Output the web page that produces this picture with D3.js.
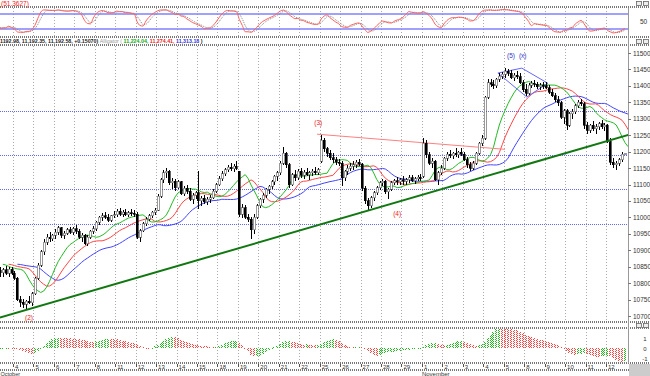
<!DOCTYPE html>
<html>
<head>
<meta charset="utf-8">
<title>DJIA hourly - Alligator</title>
<script src="https://d3js.org/d3.v7.min.js"></script>
<style>
body{margin:0;background:#fff}
svg{display:block}
text{font-family:"Liberation Sans",Arial,sans-serif}
</style>
</head>
<body>
<script>
// trading days shown (Oct 1 .. Nov 12), 7 hourly bars each
var dayLabels = ["1","4","5","6","7","8","11","12","13","14","15","18","19","20","21","22",
                 "25","26","27","28","29","1","2","3","4","5","8","9","10","11","12"];
var barsPerDay = 7;

// hourly candles [open, high, low, close], one row per day
var candles = [
 [10860,10880,10835,10850],[10850,10862,10830,10838],[10838,10850,10820,10832],[10832,10845,10818,10840],[10840,10852,10825,10830],[10830,10848,10820,10842],[10842,10850,10826,10830],
 [10830,10838,10810,10815],[10815,10818,10745,10750],[10750,10760,10728,10742],[10742,10752,10725,10735],[10735,10750,10722,10745],[10745,10760,10735,10740],[10740,10772,10730,10768],
 [10768,10820,10765,10815],[10815,10860,10810,10855],[10855,10900,10850,10895],[10895,10935,10885,10925],[10925,10950,10915,10940],[10940,10955,10925,10935],[10935,10950,10928,10945],
 [10945,10965,10935,10955],[10955,10975,10945,10968],[10968,10972,10938,10945],[10945,10960,10935,10952],[10952,10968,10945,10962],[10962,10970,10948,10955],[10955,10972,10945,10965],
 [10965,10978,10950,10958],[10958,10965,10935,10940],[10940,10952,10925,10945],[10945,10950,10915,10920],[10920,10945,10912,10940],[10940,10962,10935,10958],[10958,10975,10950,10965],
 [10965,10990,10960,10985],[10985,11005,10978,11000],[11000,11012,10990,11005],[11005,11015,10995,11000],[11000,11010,10985,10992],[10992,11008,10985,11005],[11005,11018,10998,11008],
 [11008,11025,11002,11018],[11018,11028,11005,11010],[11010,11022,11000,11015],[11015,11025,11005,11008],[11008,11020,11000,11014],[11014,11024,11004,11012],[11012,11022,11002,11010],
 [11010,11015,10935,10940],[10940,10965,10925,10960],[10960,10985,10955,10980],[10980,11000,10975,10995],[10995,11010,10990,11005],[11005,11020,10998,11015],[11015,11030,11008,11022],
 [11022,11070,11018,11065],[11065,11120,11060,11115],[11115,11145,11105,11135],[11135,11150,11120,11140],[11140,11145,11100,11105],[11105,11120,11085,11110],[11110,11118,11080,11090],
 [11090,11115,11085,11108],[11108,11112,11068,11072],[11072,11095,11065,11088],[11088,11098,11070,11080],[11080,11090,11050,11055],[11055,11075,11040,11068],[11068,11080,11055,11075],
 [11075,11140,11025,11050],[11050,11065,11035,11058],[11058,11068,11040,11048],[11048,11062,11038,11055],[11055,11068,11045,11060],[11060,11085,11055,11080],[11080,11105,11075,11100],
 [11100,11125,11095,11118],[11118,11140,11110,11132],[11132,11150,11125,11145],[11145,11160,11138,11152],[11152,11165,11140,11148],[11148,11162,11138,11155],[11155,11170,11145,11150],
 [11140,11142,11000,11010],[11010,11040,10998,11030],[11030,11038,10995,11000],[11000,11010,10985,10995],[10995,11000,10935,10962],[10962,11010,10950,11000],[11000,11040,10995,11035],
 [11035,11060,11028,11055],[11055,11075,11045,11068],[11068,11090,11060,11085],[11085,11100,11070,11095],[11095,11115,11085,11108],[11108,11130,11100,11125],[11125,11140,11112,11135],
 [11135,11170,11130,11165],[11165,11215,11160,11195],[11195,11200,11150,11160],[11160,11165,11090,11100],[11100,11135,11095,11130],[11130,11145,11110,11120],[11120,11148,11115,11140],
 [11140,11150,11120,11128],[11128,11145,11118,11138],[11138,11150,11125,11130],[11130,11142,11115,11135],[11135,11148,11125,11140],[11140,11152,11128,11135],[11135,11150,11128,11145],
 [11170,11250,11165,11235],[11235,11240,11200,11208],[11208,11215,11185,11195],[11195,11205,11175,11182],[11182,11195,11165,11175],[11175,11185,11160,11168],[11168,11178,11155,11165],
 [11165,11172,11095,11120],[11120,11145,11110,11140],[11140,11160,11130,11150],[11150,11165,11140,11155],[11155,11170,11145,11160],[11160,11175,11150,11168],[11168,11178,11155,11162],
 [11162,11165,11080,11088],[11088,11095,11040,11050],[11050,11060,11020,11035],[11035,11065,11030,11060],[11060,11080,11050,11075],[11075,11095,11068,11090],[11090,11110,11082,11105],
 [11105,11118,11095,11110],[11110,11115,11070,11078],[11078,11090,11055,11085],[11085,11110,11080,11105],[11105,11118,11098,11112],[11112,11122,11100,11108],[11108,11120,11098,11115],
 [11115,11125,11100,11110],[11110,11120,11098,11115],[11115,11128,11105,11120],[11120,11130,11108,11112],[11112,11122,11102,11118],[11118,11130,11110,11122],[11122,11132,11112,11118],
 [11125,11240,11120,11225],[11225,11235,11180,11190],[11190,11200,11160,11165],[11165,11180,11150,11170],[11170,11175,11110,11115],[11115,11140,11100,11135],[11135,11160,11130,11150],
 [11150,11185,11145,11180],[11180,11200,11172,11192],[11192,11205,11182,11188],[11188,11200,11178,11195],[11195,11210,11185,11190],[11190,11202,11180,11198],[11198,11210,11188,11192],
 [11192,11200,11170,11175],[11175,11185,11150,11160],[11160,11168,11140,11150],[11150,11170,11145,11165],[11165,11200,11160,11195],[11195,11230,11190,11225],[11225,11250,11218,11240],
 [11240,11370,11235,11365],[11365,11420,11360,11410],[11410,11422,11398,11405],[11405,11418,11392,11400],[11400,11425,11395,11420],[11420,11438,11412,11430],[11430,11442,11420,11435],
 [11435,11455,11425,11445],[11445,11452,11430,11438],[11438,11448,11420,11425],[11425,11440,11415,11432],[11432,11445,11420,11428],[11428,11440,11405,11410],[11410,11418,11380,11388],
 [11390,11405,11370,11378],[11378,11408,11372,11402],[11402,11415,11395,11408],[11408,11418,11398,11405],[11405,11412,11390,11398],[11398,11410,11388,11402],[11402,11412,11392,11400],
 [11400,11412,11390,11395],[11395,11402,11375,11380],[11380,11392,11365,11370],[11370,11378,11350,11358],[11358,11368,11340,11348],[11348,11355,11300,11305],[11305,11330,11285,11325],
 [11325,11330,11265,11280],[11280,11320,11275,11315],[11315,11330,11300,11322],[11322,11345,11315,11340],[11340,11358,11332,11350],[11350,11360,11338,11345],[11345,11350,11270,11280],
 [11280,11290,11255,11265],[11265,11285,11258,11280],[11280,11292,11262,11270],[11270,11285,11255,11275],[11275,11290,11265,11285],[11285,11295,11268,11275],[11275,11288,11262,11280],
 [11280,11285,11225,11230],[11230,11240,11160,11168],[11168,11180,11150,11160],[11160,11172,11145,11165],[11165,11180,11155,11175],[11175,11200,11168,11192],[11192,11193,11192,11193]
];

var priceTicks = [10700,10750,10800,10850,10900,10950,11000,11050,11100,11150,11200,11250,11300,11350,11400,11450,11500];
var levels = [11323,11190,11086,10980];           // blue dotted levels
var greenTrend = [[2,10695],[218,11253]];          // [bar index, price]
var redTrend = [[110.6,11253],[174.9,11207]];
var wedge = [[172.5,11439],[180.7,11454],[189.6,11408],[182.4,11366],[172.5,11439]];
var waves = [
  {t:"(2)", i:12, p:10695, c:"#e22"},
  {t:"(3)", i:111, p:11290, c:"#e22"},
  {t:"(4)", i:138, p:11012, c:"#e22"},
  {t:"(5)", i:177, p:11491, c:"#33c"},
  {t:"(x)", i:181, p:11491, c:"#33c"}
];
var aoTicks = [100,0,-100];

var W = 650, H = 376, plotR = 628;
var nBars = candles.length;

var x = d3.scaleLinear().domain([0, nBars]).range([-7.45, 626.4]);
var y = d3.scaleLinear().domain([10700, 11500]).range([316, 53]);
var yS = d3.scaleLinear().domain([0, 100]).range([34, 9]);
var yA = d3.scaleLinear().domain([-100, 100]).range([358, 338]);

var svg = d3.select("body").append("svg").attr("width", W).attr("height", H)
  .style("background", "#fff");
var defs = svg.append("defs");
function clip(id, x0, y0, w, h){
  defs.append("clipPath").attr("id", id).append("rect").attr("x", x0).attr("y", y0).attr("width", w).attr("height", h);
}
clip("cMain", 0, 45, plotR, 277);
clip("cTop", 0, 8, plotR, 28);
clip("cAo", 0, 329, plotR, 33);

// stipple patterns for the oscillator bars
function pat(id, col){
  var p = defs.append("pattern").attr("id", id).attr("width", 2).attr("height", 2).attr("patternUnits", "userSpaceOnUse");
  p.append("rect").attr("width", 1).attr("height", 1).attr("fill", col);
  p.append("rect").attr("x", 1).attr("y", 1).attr("width", 1).attr("height", 1).attr("fill", col);
}
pat("pG", "#22bb22");
pat("pR", "#ff4444");

// ---- indicators from candles ----
var med = candles.map(function(d){ return (d[1] + d[2]) / 2; });
function smma(n){
  var out = [], v = med[0];
  med.forEach(function(m, i){ v = i === 0 ? m : (v * (n - 1) + m) / n; out.push(v); });
  return out;
}
function sma(arr, n){
  return arr.map(function(_, i){ return d3.mean(arr.slice(Math.max(0, i - n + 1), i + 1)); });
}
var jaw = smma(13), teeth = smma(8), lips = smma(5);
var sma5 = sma(med, 5), sma34 = sma(med, 34);
var ao = sma5.map(function(v, i){ return v - sma34[i]; });
var kRaw = candles.map(function(d, i){
  var w = candles.slice(Math.max(0, i - 13), i + 1);
  var hh = d3.max(w, function(c){ return c[1]; }), ll = d3.min(w, function(c){ return c[2]; });
  return {n: d[3] - ll, r: hh - ll};
});
var kSlow = kRaw.map(function(_, i){
  var w = kRaw.slice(Math.max(0, i - 2), i + 1);
  return 100 * d3.sum(w, function(c){ return c.n; }) / Math.max(1, d3.sum(w, function(c){ return c.r; }));
});
var dSlow = sma(kSlow, 3);

// ---- frames ----
function dotted(y0){
  svg.append("line").attr("x1", 0).attr("x2", W).attr("y1", y0).attr("y2", y0)
    .attr("stroke", "#777").attr("stroke-width", 2).attr("stroke-dasharray", "1,1");
}
[7, 37, 45, 322, 328, 363, 370].forEach(dotted);

// day grid lines
var dayStarts = dayLabels.map(function(_, k){ return x(k * barsPerDay); });
[[8, 36], [46, 321], [329, 362]].forEach(function(r){
  svg.append("g").selectAll("line").data(dayStarts.slice(1)).enter().append("line")
    .attr("x1", function(d){ return Math.round(d) + 0.5; }).attr("x2", function(d){ return Math.round(d) + 0.5; })
    .attr("y1", r[0]).attr("y2", r[1])
    .attr("stroke", "#aaa").attr("stroke-dasharray", "1,2");
});

// right axis strip
svg.append("line").attr("x1", plotR + 0.5).attr("x2", plotR + 0.5).attr("y1", 8).attr("y2", 363).attr("stroke", "#999");

// small window buttons at the panel corners
[1, 39, 323].forEach(function(by){
  [636, 643].forEach(function(bx){
    svg.append("rect").attr("x", bx + 0.5).attr("y", by + 0.5).attr("width", 5).attr("height", 4)
      .attr("fill", "#eee").attr("stroke", "#666").attr("stroke-width", 0.8);
  });
});

// ---- top stochastic panel ----
var gT = svg.append("g").attr("clip-path", "url(#cTop)");
[80, 20].forEach(function(v){
  gT.append("line").attr("x1", 0).attr("x2", plotR).attr("y1", yS(v)).attr("y2", yS(v))
    .attr("stroke", "#8080ff").attr("stroke-width", 1.5);
});
var lineS = d3.line().x(function(d, i){ return x(i + 0.5); }).y(function(d){ return yS(d); }).curve(d3.curveMonotoneX);
gT.append("path").attr("d", lineS(dSlow)).attr("fill", "none").attr("stroke", "#888").attr("stroke-dasharray", "1,1");
gT.append("path").attr("d", lineS(kSlow)).attr("fill", "none").attr("stroke", "#ff5f5f");
svg.append("text").attr("x", 1).attr("y", 6).attr("font-size", 6.5).attr("fill", "#e22").text("(51.3627)");
svg.append("text").attr("x", 640).attr("y", yS(50) + 2.5).attr("font-size", 6.5).attr("fill", "#333").text("50");

// ---- main panel ----
var gM = svg.append("g").attr("clip-path", "url(#cMain)");
levels.forEach(function(v){
  gM.append("line").attr("x1", 0).attr("x2", plotR).attr("y1", Math.round(y(v)) + 0.5).attr("y2", Math.round(y(v)) + 0.5)
    .attr("stroke", "#6666ff").attr("stroke-dasharray", "1,1");
});

// alligator lines
function shifted(arr, s){ return arr.map(function(v, i){ return [i + s, v]; }); }
var lineA = d3.line().x(function(d){ return x(d[0] + 0.5); }).y(function(d){ return y(d[1]); });
[[jaw, 8, "#4444ff"], [teeth, 5, "#ff4444"], [lips, 3, "#22bb22"]].forEach(function(a){
  gM.append("path").attr("d", lineA(shifted(a[0], a[1]))).attr("fill", "none").attr("stroke", a[2]).attr("stroke-width", 1);
});

// trend lines
var lineT = d3.line().x(function(d){ return x(d[0] + 0.5); }).y(function(d){ return y(d[1]); });
gM.append("path").attr("d", lineT(redTrend)).attr("stroke", "#ff8080").attr("stroke-width", 1).attr("fill", "none");
gM.append("path").attr("d", lineT(wedge)).attr("stroke", "#6666ff").attr("stroke-width", 1).attr("fill", "none");

// candles
var gC = gM.append("g").attr("shape-rendering", "crispEdges");
gC.selectAll("line").data(candles).enter().append("line")
  .attr("x1", function(d, i){ return Math.round(x(i + 0.5)) + 0.5; })
  .attr("x2", function(d, i){ return Math.round(x(i + 0.5)) + 0.5; })
  .attr("y1", function(d){ return y(d[1]); }).attr("y2", function(d){ return y(d[2]); })
  .attr("stroke", "#000");
gC.selectAll("rect").data(candles).enter().append("rect")
  .attr("x", function(d, i){ return Math.round(x(i + 0.5)) - 1; })
  .attr("width", 2)
  .attr("y", function(d){ return y(Math.max(d[0], d[3])); })
  .attr("height", function(d){ return Math.max(1, Math.abs(y(d[0]) - y(d[3]))); })
  .attr("fill", function(d){ return d[3] >= d[0] ? "#fff" : "#000"; })
  .attr("stroke", function(d){ return d[3] >= d[0] ? "#555" : "#000"; })
  .attr("stroke-width", 0.6);

gM.append("path").attr("d", lineT(greenTrend)).attr("stroke", "#117711").attr("stroke-width", 2).attr("fill", "none");

// wave labels
gM.selectAll("text.w").data(waves).enter().append("text").attr("class", "w")
  .attr("x", function(d){ return x(d.i + 0.5); }).attr("y", function(d){ return y(d.p) + 2.5; })
  .attr("text-anchor", "middle").attr("font-size", 6.5).attr("fill", function(d){ return d.c; })
  .text(function(d){ return d.t; });

// price axis
var gY = svg.append("g");
gY.selectAll("line").data(priceTicks).enter().append("line")
  .attr("x1", plotR).attr("x2", plotR + 3).attr("y1", function(d){ return Math.round(y(d)) + 0.5; })
  .attr("y2", function(d){ return Math.round(y(d)) + 0.5; }).attr("stroke", "#777");
gY.selectAll("text").data(priceTicks).enter().append("text")
  .attr("x", plotR + 5).attr("y", function(d){ return y(d) + 2.5; })
  .attr("font-size", 6.5).attr("fill", "#333").text(function(d){ return d; });

// header text
var hdr = svg.append("text").attr("x", 0).attr("y", 43).attr("font-size", 5.3).attr("font-weight", "bold");
hdr.append("tspan").attr("fill", "#222").text("1192.98, 11,192.35, 11,192.58, +0.15070) ");
hdr.append("tspan").attr("fill", "#999").attr("font-weight", "normal").text("Alligator ( ");
hdr.append("tspan").attr("fill", "#1a1").text("11,224.04, ");
hdr.append("tspan").attr("fill", "#e22").text("11,274.41, ");
hdr.append("tspan").attr("fill", "#33d").text("11,313.18");
hdr.append("tspan").attr("fill", "#222").text(" )");

// ---- awesome oscillator ----
var gA = svg.append("g").attr("clip-path", "url(#cAo)").attr("shape-rendering", "crispEdges");
gA.selectAll("rect").data(ao).enter().append("rect")
  .attr("x", function(d, i){ return Math.round(x(i + 0.5)) - 1; }).attr("width", 2)
  .attr("y", function(d){ return Math.min(yA(d), yA(0)); })
  .attr("height", function(d){ return Math.max(1, Math.abs(yA(d) - yA(0))); })
  .attr("fill", function(d, i){ return i > 0 && d < ao[i - 1] ? "url(#pR)" : "url(#pG)"; });
svg.selectAll("text.ao").data(aoTicks).enter().append("text").attr("class", "ao")
  .attr("x", 645).attr("y", function(d){ return yA(d) + 2.5; }).attr("text-anchor", "middle")
  .attr("font-size", 6).attr("fill", "#333").text(function(d){ return d > 0 ? "1" : d < 0 ? "-1" : "0"; });

// ---- date axis ----
var gX = svg.append("g");
gX.selectAll("line").data(dayStarts.slice(1)).enter().append("line")
  .attr("x1", function(d){ return Math.round(d) + 0.5; }).attr("x2", function(d){ return Math.round(d) + 0.5; })
  .attr("y1", 364).attr("y2", 367).attr("stroke", "#555");
gX.selectAll("text").data(dayLabels.slice(1)).enter().append("text")
  .attr("x", function(d, k){ return dayStarts[k + 1] + 2; }).attr("y", 369)
  .attr("font-size", 6).attr("fill", "#333").text(function(d){ return d; });
svg.append("text").attr("x", 0.5).attr("y", 375.5).attr("font-size", 5.5).attr("fill", "#333").text("October");
svg.append("text").attr("x", dayStarts[21]).attr("y", 375.5).attr("font-size", 6).attr("fill", "#333").text("November");

// corner
svg.append("rect").attr("x", plotR + 1).attr("y", 364).attr("width", W - plotR).attr("height", 12).attr("fill", "#ccc");
</script>
</body>
</html>
